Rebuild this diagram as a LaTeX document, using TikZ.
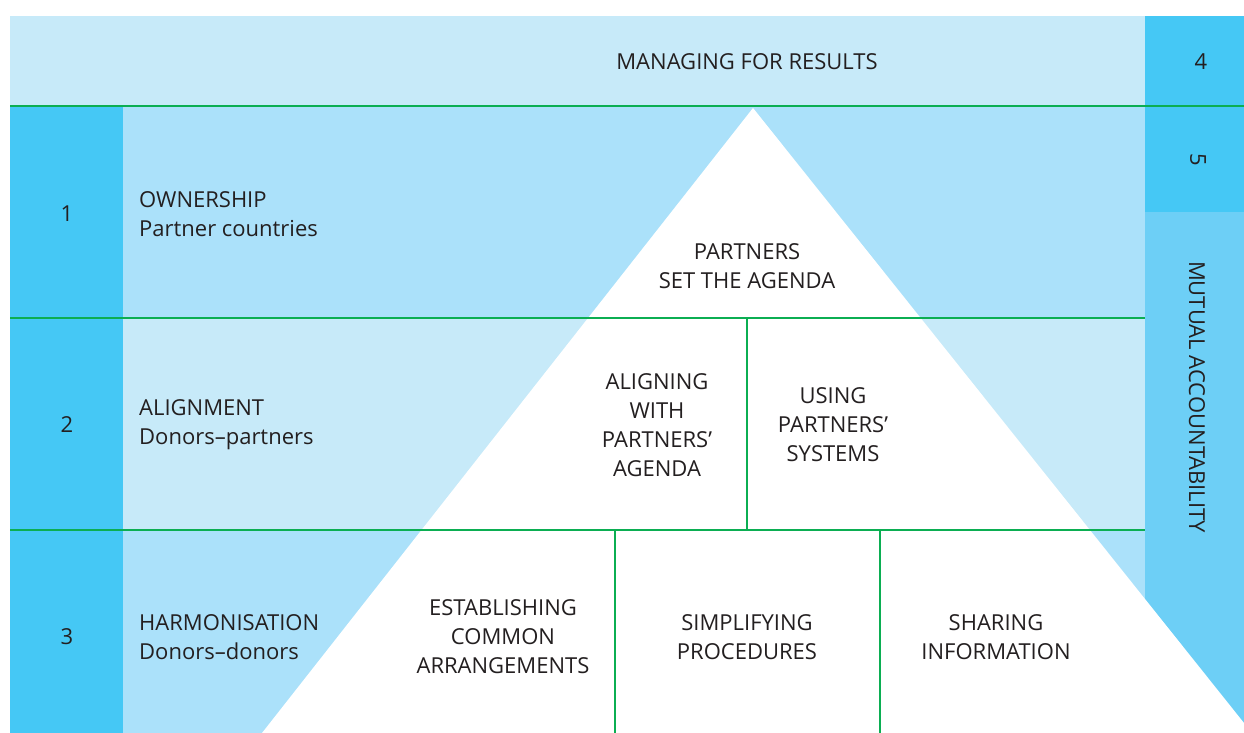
\documentclass[tikz,border=0pt]{standalone}
\usepackage{fontspec}
\setmainfont{Open Sans}
\definecolor{dark}{HTML}{45C8F5}
\definecolor{mid}{HTML}{ABE1FA}
\definecolor{light}{HTML}{C7EAF9}
\definecolor{colm}{HTML}{6DCFF6}
\definecolor{grn}{HTML}{0BAE52}
\definecolor{ink}{HTML}{231F20}
\begin{document}
\begin{tikzpicture}[x=1pt,y=-1pt,
  lbl/.style={font=\fontsize{22}{29}\selectfont,text=ink,inner sep=0pt,align=center},
  lbll/.style={lbl,align=left,anchor=west},
  gline/.style={draw=grn,line width=2.7pt}]
\useasboundingbox (0,0) rectangle (1244,733);
\clip (0,0) rectangle (1244,733);
% backgrounds
\fill[light] (10,16) rectangle (1145,106);
\fill[mid] (123,106) rectangle (1145,318);
\fill[light] (123,318) rectangle (1145,530);
\fill[mid] (123,530) rectangle (1145,733);
\fill[dark] (1145,16) rectangle (1244,212);
\fill[colm] (1145,212) rectangle (1244,733);
\fill[dark] (10,106) rectangle (123,733);
% triangle
\fill[white] (753,108) -- (262,733) -- (1252,733) -- cycle;
% green lines
\draw[gline] (10,106) -- (1244,106);
\draw[gline] (10,318) -- (1145,318);
\draw[gline] (10,530) -- (1145,530);
\draw[gline] (747,318) -- (747,530);
\draw[gline] (615,530) -- (615,733);
\draw[gline] (880,530) -- (880,733);
% texts
\node[lbl] (mfr) at (747,62) {MANAGING FOR RESULTS};
\node[lbl] (n4) at (1201,62) {4};
\node[lbl,rotate=-90] (n5) at (1198,160) {5};
\node[lbl,rotate=-90] (ma) at (1197,397) {MUTUAL ACCOUNTABILITY};
\node[lbl] (n1) at (67,214) {1};
\node[lbl] (n2) at (67,425) {2};
\node[lbl] (n3) at (67,637) {3};
\node[lbll] (own) at (139,214) {OWNERSHIP\\Partner countries};
\node[lbll] (ali) at (139,425) {ALIGNMENT\\Donors–partners};
\node[lbll] (har) at (139,637) {HARMONISATION\\Donors–donors};
\node[lbl] (pst) at (747,266) {PARTNERS\\SET THE AGENDA};
\node[lbl] (awp) at (657,425) {ALIGNING\\WITH\\PARTNERS’\\AGENDA};
\node[lbl] (ups) at (833,425) {USING\\PARTNERS’\\SYSTEMS};
\node[lbl] (eca) at (503,637) {ESTABLISHING\\COMMON\\ARRANGEMENTS};
\node[lbl] (sp) at (747,637) {SIMPLIFYING\\PROCEDURES};
\node[lbl] (si) at (996,637) {SHARING\\INFORMATION};
\end{tikzpicture}
\end{document}
